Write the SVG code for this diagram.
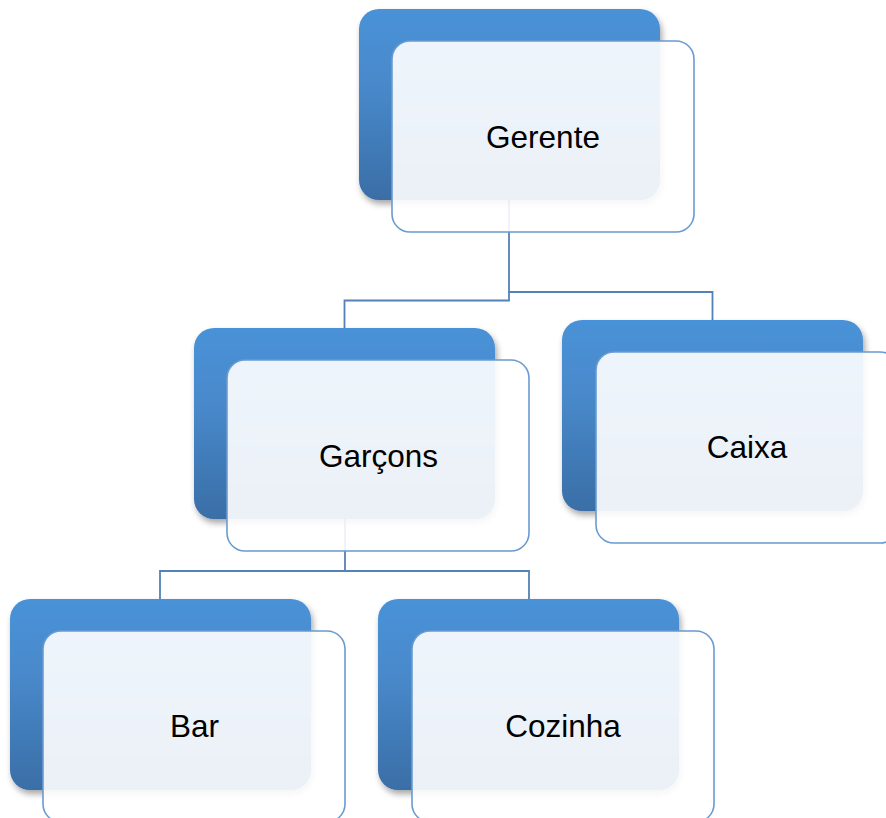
<svg xmlns="http://www.w3.org/2000/svg" width="886" height="818" viewBox="0 0 886 818">
<defs>
<linearGradient id="bg" x1="0" y1="0" x2="0" y2="1">
<stop offset="0" stop-color="#4A92D7"/>
<stop offset="0.4" stop-color="#4889CB"/>
<stop offset="1" stop-color="#3A6EA6"/>
</linearGradient>
<filter id="sh" x="-10%" y="-10%" width="125%" height="130%">
<feDropShadow dx="2" dy="4" stdDeviation="3" flood-color="#000" flood-opacity="0.35"/>
</filter>
<filter id="sh2" x="-10%" y="-10%" width="125%" height="130%">
<feDropShadow dx="1" dy="2" stdDeviation="3" flood-color="#000" flood-opacity="0.08"/>
</filter>
</defs>
<style>
.back{fill:url(#bg);filter:url(#sh);}
.front{fill:#FFFFFF;fill-opacity:0.9;stroke:#6A9BD0;stroke-width:1.6;}
.lbl{font-family:"Liberation Sans",Arial,sans-serif;font-size:31.5px;fill:#000;text-anchor:middle;}
.conn{fill:none;stroke:#5482B6;stroke-width:1.8;}
</style>
<rect width="886" height="818" fill="#FFFFFF"/>
<g id="connectors">
<path class="conn" d="M509,200 V292 H712.5 V320"/>
<path class="conn" d="M509,292 V300.5 H344.5 V328"/>
<path class="conn" d="M345,519 V571 H160 V599"/>
<path class="conn" d="M345,571 H529 V599"/>
</g>
<g id="gerente">
<rect class="back" x="359" y="9" width="301" height="191" rx="20"/>
<rect class="front" x="392" y="41" width="302" height="191" rx="18"/>
<text class="lbl" x="543" y="148">Gerente</text>
</g>
<g id="garcons">
<rect class="back" x="194" y="328" width="301" height="191" rx="20"/>
<rect class="front" x="227" y="360" width="302" height="191" rx="18"/>
<text class="lbl" x="378.5" y="467">Garçons</text>
</g>
<g id="caixa">
<rect class="back" x="562" y="320" width="301" height="191" rx="20"/>
<rect class="front" x="596" y="352" width="302" height="191" rx="18"/>
<text class="lbl" x="747" y="458">Caixa</text>
</g>
<g id="bar">
<rect class="back" x="10" y="599" width="301" height="191" rx="20"/>
<rect class="front" x="43" y="631" width="302" height="191" rx="18"/>
<text class="lbl" x="194.5" y="737">Bar</text>
</g>
<g id="cozinha">
<rect class="back" x="378" y="599" width="301" height="191" rx="20"/>
<rect class="front" x="412" y="631" width="302" height="191" rx="18"/>
<text class="lbl" x="563" y="737">Cozinha</text>
</g>
</svg>
